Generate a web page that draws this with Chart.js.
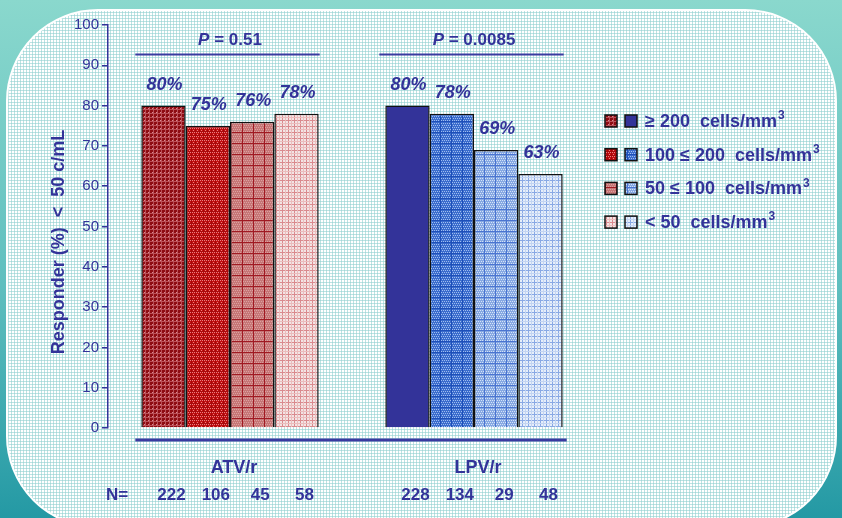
<!DOCTYPE html>
<html>
<head>
<meta charset="utf-8">
<script src="https://cdn.jsdelivr.net/npm/chart.js@4.4.1/dist/chart.umd.min.js"></script>
<style>
  html, body { margin: 0; padding: 0; }
  body {
    width: 842px; height: 518px; overflow: hidden; position: relative;
    background: linear-gradient(to bottom, #8ad8cd 0%, #5fbfbf 55%, #2499a4 100%);
    font-family: 'Liberation Sans', Arial, sans-serif;
  }
  #panel {
    position: absolute; left: 6px; top: 9px; width: 827px; height: 515px;
    border: 2px solid #ffffff; border-radius: 92px;
    background-color: #ffffff;
    background-image:
      repeating-linear-gradient(90deg, rgba(145, 208, 208, 0.6) 0 1px, transparent 1px 3px),
      repeating-linear-gradient(0deg, rgba(145, 208, 208, 0.6) 0 1px, transparent 1px 3px);
  }
  #chart { position: absolute; left: 0; top: 0; }
</style>
</head>
<body>
<div id="panel"></div>
<canvas id="chart" width="842" height="518"></canvas>
<script>
const groups = ['ATV/r', 'LPV/r'];
const strata = ['≥ 200  cells/mm', '100 ≤ 200  cells/mm', '50 ≤ 100  cells/mm', '< 50  cells/mm'];
const atvResponders = [80, 75, 76, 78];
const lpvResponders = [80, 78, 69, 63];
const atvN = [222, 106, 45, 58];
const lpvN = [228, 134, 29, 48];
const pValues = ['0.51', '0.0085'];
const yTitle = 'Responder (%)  <  50 c/mL';

const INK = '#333399';
const FONT = "'Liberation Sans', Arial, sans-serif";

// small tiled fills for the hatched bars
function tile(size, base, draw) {
  const c = document.createElement('canvas');
  c.width = size; c.height = size;
  const g = c.getContext('2d');
  g.fillStyle = base;
  g.fillRect(0, 0, size, size);
  draw(g, size);
  return document.getElementById('chart').getContext('2d').createPattern(c, 'repeat');
}
function plaid(g, s, col, step, off) {
  g.fillStyle = col;
  for (let p = off; p < s; p += step) {
    g.fillRect(p, 0, 1, s);
    g.fillRect(0, p, s, 1);
  }
}
function dots(g, s, col, step) {
  g.fillStyle = col;
  for (let y = 0; y < s; y += step)
    for (let x = (y / step) % 2 ? step / 2 : 0; x < s; x += step) g.fillRect(x, y, 1, 1);
}

const redFills = [
  tile(4, '#8e0c12', (g, s) => { plaid(g, s, '#bb5058', 4, 1); dots(g, s, '#dc8a90', 4); }),
  tile(4, '#c20e10', (g, s) => { dots(g, s, '#ea8080', 2); plaid(g, s, '#a80a0c', 4, 3); }),
  tile(11, '#c67676', (g, s) => { dots(g, s, '#dca0a0', 2); plaid(g, s, '#a01a22', 11, 0); }),
  tile(6, '#f3e4e4', (g, s) => { plaid(g, s, '#d98a8e', 6, 0); plaid(g, s, '#ebbcbc', 6, 3); })
];
const blueFills = [
  '#333399',
  tile(11, '#3a6ccc', (g, s) => { dots(g, s, '#9fbdf0', 2); plaid(g, s, '#1d4fb8', 11, 0); }),
  tile(11, '#86a8e2', (g, s) => { dots(g, s, '#d4e2f8', 2); plaid(g, s, '#4a74d0', 11, 0); }),
  tile(6, '#e6eefa', (g, s) => { plaid(g, s, '#88a8e4', 6, 0); plaid(g, s, '#c2d4f2', 6, 3); })
];

const datasets = strata.map((label, i) => ({
  label: label,
  data: [atvResponders[i], lpvResponders[i]],
  backgroundColor: [redFills[i], blueFills[i]],
  borderColor: '#111111',
  borderWidth: 1.5,
  barPercentage: 1,
  categoryPercentage: 0.727
}));

function groupSpan(chart, g) {
  const first = chart.getDatasetMeta(0).data[g];
  const last = chart.getDatasetMeta(datasets.length - 1).data[g];
  return { left: first.x - first.width / 2, right: last.x + last.width / 2 };
}

const decorations = {
  id: 'decorations',
  afterDatasetsDraw(chart) {
    const ctx = chart.ctx;
    const area = chart.chartArea;
    ctx.save();
    ctx.fillStyle = INK;
    ctx.strokeStyle = '#3a3aa0';
    ctx.textBaseline = 'middle';
    ctx.textAlign = 'center';

    // y axis title, sitting a little below the middle of the axis
    ctx.save();
    ctx.translate(59, 242);
    ctx.rotate(-Math.PI / 2);
    ctx.font = `bold 18px ${FONT}`;
    ctx.fillText(yTitle, 0, 0);
    ctx.restore();

    // value labels above each bar
    ctx.font = `italic bold 18px ${FONT}`;
    chart.data.datasets.forEach((ds, i) => {
      chart.getDatasetMeta(i).data.forEach((bar, g) => {
        ctx.fillText(ds.data[g] + '%', bar.x + 1, bar.y - 21);
      });
    });

    groups.forEach((name, g) => {
      const span = groupSpan(chart, g);
      const mid = (span.left + span.right) / 2;

      // P value headline with rule underneath
      ctx.font = `italic bold 17px ${FONT}`;
      const pw = ctx.measureText('P').width;
      ctx.font = `bold 17px ${FONT}`;
      const rest = ' = ' + pValues[g];
      const rw = ctx.measureText(rest).width;
      const x0 = mid - (pw + rw) / 2;
      ctx.textAlign = 'left';
      ctx.font = `italic bold 17px ${FONT}`;
      ctx.fillText('P', x0, 40);
      ctx.font = `bold 17px ${FONT}`;
      ctx.fillText(rest, x0 + pw, 40);
      ctx.textAlign = 'center';
      ctx.lineWidth = 2;
      ctx.beginPath();
      ctx.moveTo(span.left - 6, 54.5);
      ctx.lineTo(span.right + 1, 54.5);
      ctx.stroke();

      // group name and sample sizes
      ctx.font = `bold 18px ${FONT}`;
      ctx.fillText(name, mid + 4, 468);
      ctx.font = `bold 17px ${FONT}`;
      const ns = g === 0 ? atvN : lpvN;
      chart.data.datasets.forEach((ds, i) => {
        const bar = chart.getDatasetMeta(i).data[g];
        ctx.fillText(String(ns[i]), bar.x + 8, 495);
      });
    });

    ctx.font = `bold 17px ${FONT}`;
    ctx.fillText('N=', area.left + 9, 495);

    // baseline rule under both groups
    const a = groupSpan(chart, 0), b = groupSpan(chart, 1);
    ctx.lineWidth = 3;
    ctx.beginPath();
    ctx.moveTo(a.left - 6, area.bottom + 12);
    ctx.lineTo(b.right + 4, area.bottom + 12);
    ctx.stroke();

    // legend: one red and one blue swatch per stratum, unit with raised 3
    ctx.textAlign = 'left';
    strata.forEach((label, i) => {
      const y = 121 + i * 33.7;
      [redFills[i], blueFills[i]].forEach((fill, k) => {
        const bx = area.right + 9 + k * 20;
        ctx.fillStyle = fill;
        ctx.fillRect(bx, y - 6, 12, 12);
        ctx.lineWidth = 1.5;
        ctx.strokeStyle = '#111111';
        ctx.strokeRect(bx, y - 6, 12, 12);
      });
      ctx.fillStyle = INK;
      ctx.font = `bold 18px ${FONT}`;
      const tx = area.right + 49;
      ctx.fillText(label, tx, y + 1);
      const w = ctx.measureText(label).width;
      ctx.font = `bold 12px ${FONT}`;
      ctx.fillText('3', tx + w + 1, y - 5);
    });
    ctx.restore();
  }
};

new Chart(document.getElementById('chart'), {
  type: 'bar',
  data: { labels: groups, datasets: datasets },
  options: {
    responsive: false,
    animation: false,
    layout: { padding: { left: 44, top: 25, right: 246, bottom: 90 } },
    plugins: { legend: { display: false }, tooltip: { enabled: false } },
    scales: {
      x: { display: false },
      y: {
        min: 0,
        max: 100,
        afterFit(scale) { scale.width = 64; },
        ticks: { stepSize: 10, color: INK, font: { family: FONT, size: 15 }, padding: 3 },
        grid: { drawOnChartArea: false, drawTicks: true, tickLength: 6, color: INK, lineWidth: 1.5 },
        border: { color: INK, width: 1.5 },
        title: { display: false }
      }
    }
  },
  plugins: [decorations]
});
</script>
</body>
</html>
